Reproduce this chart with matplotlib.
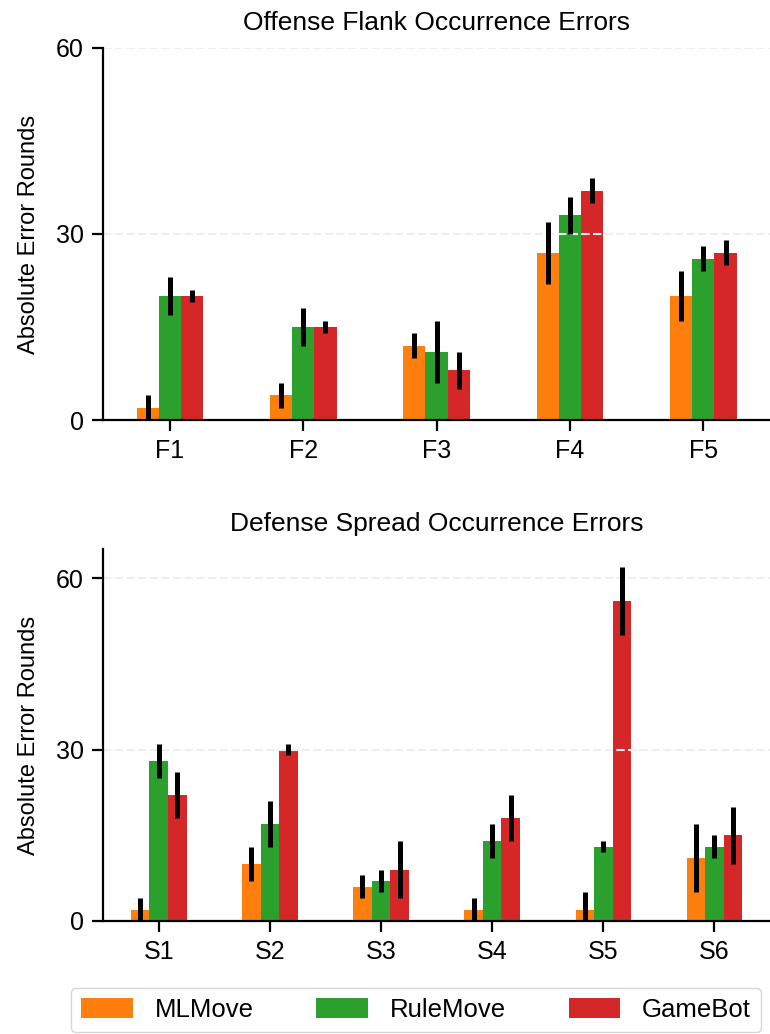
import matplotlib
matplotlib.use("Agg")
from matplotlib import pyplot as plt
import numpy as np

plt.rcParams['font.family'] = ['Liberation Sans', 'DejaVu Sans']

methods = ["MLMove", "RuleMove", "GameBot"]
colors = ["#ff7f0e", "#2ca02c", "#d62728"]

# offense flank occurrence errors
flank_labels = ["F1", "F2", "F3", "F4", "F5"]
flank_vals = {
    "MLMove": [2, 4, 12, 27, 20],
    "RuleMove": [20, 15, 11, 33, 26],
    "GameBot": [20, 15, 8, 37, 27],
}
flank_err = {
    "MLMove": [2, 2, 2, 5, 4],
    "RuleMove": [3, 3, 5, 3, 2],
    "GameBot": [1, 1, 3, 2, 2],
}

# defense spread occurrence errors
spread_labels = ["S1", "S2", "S3", "S4", "S5", "S6"]
spread_vals = {
    "MLMove": [2, 10, 6, 2, 2, 11],
    "RuleMove": [28, 17, 7, 14, 13, 13],
    "GameBot": [22, 30, 9, 18, 56, 15],
}
spread_err = {
    "MLMove": [2, 3, 2, 2, 3, 6],
    "RuleMove": [3, 4, 2, 3, 1, 2],
    "GameBot": [4, 1, 5, 4, 6, 5],
}


def draw_panel(ax, labels, vals, errs, title, ylim):
    x = np.arange(len(labels))
    w = 1 / 6
    for i, (m, c) in enumerate(zip(methods, colors)):
        pos = x + (i - 1) * w
        ax.bar(pos, vals[m], width=w, color=c, label=m, zorder=1)
        ax.errorbar(pos, vals[m], yerr=errs[m], fmt='none', ecolor='black',
                    elinewidth=3.6, capsize=0, zorder=3)
    ax.set_xticks(x)
    ax.set_xticklabels(labels)
    ax.set_yticks([0, 30, 60])
    ax.set_ylim(*ylim)
    ax.set_xlim(-0.5, len(labels) - 0.5)
    ax.set_axisbelow(False)
    ax.yaxis.grid(True, color='#eeeeee', linestyle=(0, (4, 1.6)), linewidth=1.5, zorder=2)
    ax.set_title(title, fontsize=19, pad=13)
    ax.set_ylabel("Absolute Error Rounds", fontsize=17, labelpad=11)
    for s in ["top", "right"]:
        ax.spines[s].set_visible(False)
    for s in ["left", "bottom"]:
        ax.spines[s].set_linewidth(1.6)
        ax.spines[s].set_zorder(4)
    ax.tick_params(labelsize=18, width=1.6, length=8, pad=6)


fig = plt.figure(figsize=(7.7, 10.34), dpi=100)
ax1 = fig.add_axes([0.134, 0.5938, 0.866, 0.3598])
ax2 = fig.add_axes([0.134, 0.1093, 0.866, 0.3597])

draw_panel(ax1, flank_labels, flank_vals, flank_err, "Offense Flank Occurrence Errors", (0, 60))
draw_panel(ax2, spread_labels, spread_vals, spread_err, "Defense Spread Occurrence Errors", (0, 65.1))

handles, lbls = ax1.get_legend_handles_labels()
fig.legend(handles, lbls, loc='center', bbox_to_anchor=(416 / 770, 1 - 1010 / 1034), ncol=3,
           fontsize=18.5, handlelength=2.0, handleheight=0.8, handletextpad=0.85,
           columnspacing=2.45, frameon=True, fancybox=True, edgecolor='#cccccc')

plt.savefig('out.png', dpi=100)
